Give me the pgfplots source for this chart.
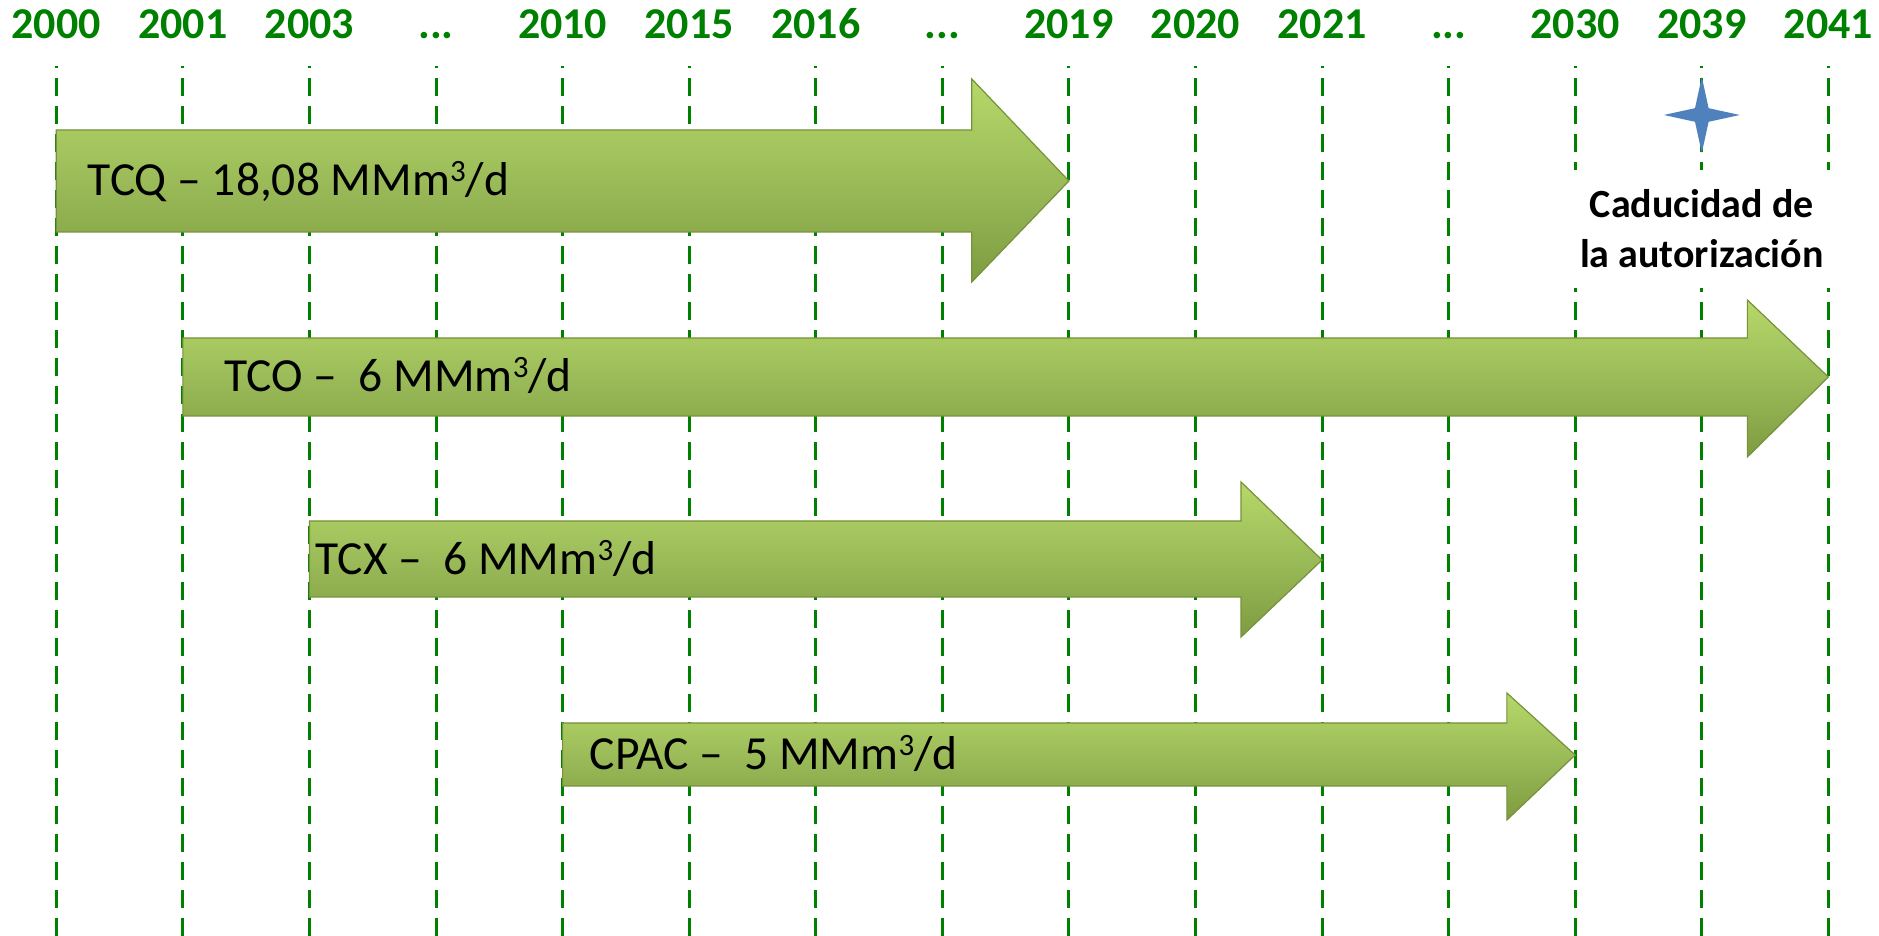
\documentclass[border=0pt]{standalone}
\usepackage{pgfplots}
\pgfplotsset{compat=1.18}
\usepackage{fontspec}
\setmainfont{Carlito}
\definecolor{yeargreen}{RGB}{0,128,0}
\definecolor{arrowtop}{RGB}{182,216,104}
\definecolor{arrowmid}{RGB}{155,187,89}
\definecolor{arrowbot}{RGB}{126,156,64}
\definecolor{arrowedge}{RGB}{118,146,58}
\definecolor{starblue}{RGB}{79,129,189}
\newcommand{\tdots}{.{}.{}.}
\newcommand{\cub}{\raisebox{7pt}{\fontsize{15.5}{15.5}\selectfont 3}}
\tikzset{
  arrowshape/.style={draw=arrowedge, line width=0.6pt,
    top color=arrowtop, bottom color=arrowbot, middle color=arrowmid},
  lbl/.style={anchor=base west, inner sep=0pt, font=\fontsize{23.75}{28}\selectfont, text=black},
}
\pgfdeclareplotmark{fourstar}{%
  \pgfpathmoveto{\pgfqpoint{0pt}{19pt}}%
  \pgfpathlineto{\pgfqpoint{3.4pt}{3.4pt}}%
  \pgfpathlineto{\pgfqpoint{19pt}{0pt}}%
  \pgfpathlineto{\pgfqpoint{3.4pt}{-3.4pt}}%
  \pgfpathlineto{\pgfqpoint{0pt}{-19pt}}%
  \pgfpathlineto{\pgfqpoint{-3.4pt}{-3.4pt}}%
  \pgfpathlineto{\pgfqpoint{-19pt}{0pt}}%
  \pgfpathlineto{\pgfqpoint{-3.4pt}{3.4pt}}%
  \pgfpathclose
  \pgfusepathqfill}
\begin{document}
\begin{tikzpicture}
\path[use as bounding box] (0,0) rectangle (939.5pt,468pt);
\begin{axis}[
  at={(0,0)}, anchor=south west,
  width=939.5pt, height=435pt, scale only axis,
  xmin=-0.4447, xmax=14.40, ymin=0, ymax=870,
  axis line style={draw=none},
  major tick length=0pt,
  ytick=\empty,
  xtick={0,1,2,3,4,5,6,7,8,9,10,11,12,13,14},
  xticklabels={2000,2001,2003,\tdots,2010,2015,2016,\tdots,2019,2020,2021,\tdots,2030,2039,2041},
  xticklabel pos=upper,
  xticklabel style={anchor=base, yshift=13.5pt, inner sep=0pt,
    font=\fontsize{22}{26}\selectfont\bfseries, text=yeargreen},
  xmajorgrids,
  major grid style={color=yeargreen, line width=1.5pt, dash pattern=on 9pt off 5pt},
  clip=false,
]
% TCQ 2000 -> 2019
\addplot[arrowshape] coordinates {(0,806) (7.233,806) (7.233,857) (8,755) (7.233,654) (7.233,704) (0,704)} --cycle;
% TCO 2001 -> 2041
\addplot[arrowshape] coordinates {(1,598) (13.36,598) (13.36,636) (14,559) (13.36,479) (13.36,520) (1,520)} --cycle;
% TCX 2003 -> 2021
\addplot[arrowshape] coordinates {(2,415) (9.36,415) (9.36,454) (10,376) (9.36,299) (9.36,339) (2,339)} --cycle;
% CPAC 2010 -> 2030
\addplot[arrowshape] coordinates {(4,213) (11.46,213) (11.46,243) (12,181) (11.46,116) (11.46,150) (4,150)} --cycle;

\node[lbl] at (axis cs:0.246,740) {TCQ – 18,08 MMm\cub/d};
\node[lbl] at (axis cs:1.325,544) {TCO –\ \ 6 MMm\cub/d};
\node[lbl] at (axis cs:2.045,361) {TCX –\ \ 6 MMm\cub/d};
\node[lbl] at (axis cs:4.212,166) {CPAC –\ \ 5 MMm\cub/d};

\addplot[only marks, mark=fourstar, color=starblue, fill=starblue] coordinates {(13,821)};
\node[fill=white, minimum width=145pt, minimum height=59pt, align=center, inner sep=0pt,
  font=\fontsize{20}{25}\selectfont\bfseries] at (axis cs:13,707) {Caducidad de\\la autorización};
\end{axis}
\end{tikzpicture}
\end{document}
